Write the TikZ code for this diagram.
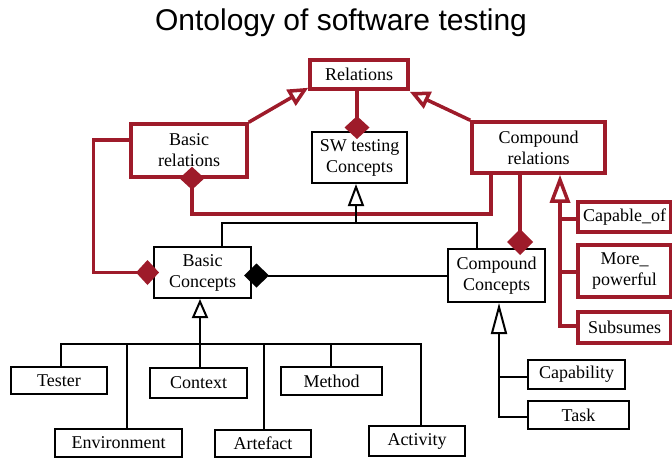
\documentclass[tikz,border=0pt]{standalone}
\usepackage{fontspec}
\setmainfont{Liberation Serif}
\newfontfamily\titlefont{Liberation Sans}
\usetikzlibrary{arrows.meta,calc}
\definecolor{ored}{RGB}{158,27,42}
\begin{document}
\begin{tikzpicture}[x=1pt,y=-1pt,
  bbox/.style={draw=black, line width=2pt, fill=white, inner sep=0pt, align=center, font=\fontsize{18}{21}\selectfont},
  rbox/.style={draw=ored, line width=3.5pt, fill=white, inner sep=0pt, align=center, font=\fontsize{18}{21}\selectfont},
  bline/.style={draw=black, line width=2pt},
  rline/.style={draw=ored, line width=3.5pt},
  opentri/.style={-{Triangle[open, fill=white, length=#1, width=16pt]}},
  ropentri/.style={-{Triangle[open, fill=white, length=#1, width=18pt]}},
  rdiam/.style={-{Diamond[length=23pt, width=25pt, fill=ored]}},
  bdiam/.style={-{Diamond[length=25pt, width=24pt, fill=black]}}
]
\fill[white] (0,0) rectangle (672,458);
\useasboundingbox (0,0) rectangle (672,458);

\node[font=\titlefont\fontsize{30}{33}\selectfont] (title) at (341,23) {Ontology of software testing};

% nodes
\node[rbox, minimum width=98pt, minimum height=29pt] (rel) at (359,74.5) {Relations};
\node[bbox, minimum width=95pt, minimum height=51pt] (sw) at (359.5,157.5) {SW testing\\Concepts};
\node[rbox, minimum width=116pt, minimum height=53pt] (br) at (189,150.5) {Basic\\relations};
\node[rbox, minimum width=133pt, minimum height=51pt] (cr) at (538.5,147.5) {Compound\\relations};
\node[rbox, minimum width=93pt, minimum height=30pt] (capof) at (624.5,217) {Capable\_of};
\node[rbox, minimum width=93pt, minimum height=52pt] (more) at (624.5,271) {More\_\\powerful};
\node[rbox, minimum width=93pt, minimum height=31pt] (subs) at (624.5,327.5) {Subsumes};
\node[bbox, minimum width=97pt, minimum height=51pt] (bc) at (202.5,272.5) {Basic\\Concepts};
\node[bbox, minimum width=97pt, minimum height=53pt] (cc) at (496.5,275.5) {Compound\\Concepts};
\node[bbox, minimum width=96pt, minimum height=27pt] (tester) at (59,380.5) {Tester};
\node[bbox, minimum width=127pt, minimum height=28pt] (env) at (118.5,443) {Environment};
\node[bbox, minimum width=97pt, minimum height=30pt] (ctx) at (198.5,383) {Context};
\node[bbox, minimum width=96pt, minimum height=27pt] (art) at (263,443.5) {Artefact};
\node[bbox, minimum width=101pt, minimum height=28pt] (meth) at (331.5,381) {Method};
\node[bbox, minimum width=96pt, minimum height=30pt] (act) at (417,441) {Activity};
\node[bbox, minimum width=97pt, minimum height=29pt] (capa) at (576.5,374.5) {Capability};
\node[bbox, minimum width=101pt, minimum height=28pt] (task) at (578.5,415) {Task};

% junction coordinates
\coordinate (j1) at (356,223);
\coordinate (j2) at (200,344);
\coordinate (ccs) at ([xshift=2.5pt]cc.south);
\coordinate (crs) at ([xshift=21.5pt]cr.south);

% red relations
\draw[rline, ropentri=20pt] (br.north east) -- ([yshift=3pt]rel.south west);
\draw[rline, ropentri=20pt] (cr.north west) -- ([yshift=-1pt]rel.south east);
\draw[rline, rdiam, shorten >=-8pt] ([xshift=-2pt]rel.south) -- ([xshift=-2.5pt]sw.north);
\draw[rline, rdiam, shorten >=-12pt] ([xshift=-47.5pt]cr.south) -- ++(0,39) -| ([xshift=3pt]br.south);
\draw[rline, -{Diamond[length=26pt, width=26pt, fill=ored]}, shorten >=-7pt] ([xshift=-18.5pt]cr.south) -- ([xshift=23.5pt]cc.north);
\draw[rline, rdiam, shorten >=-6pt] ([yshift=10.5pt]br.west) -- ++(-36,0) |- (bc.west);
\draw[rline, -{Triangle[open, fill=white, length=28pt, width=20pt]}] ([yshift=1.5pt]subs.west) -| (crs);
\draw[rline] ([yshift=-2pt]capof.west) -- ([yshift=-2pt]capof.west -| crs);
\draw[rline] ([yshift=-1pt]more.west) -- ([yshift=-1pt]more.west -| crs);

% black relations
\draw[bline, bdiam, shorten >=-8pt] (cc.west) -- (cc.west -| bc.east);
\draw[bline] ([xshift=19.5pt]bc.north) |- (j1);
\draw[bline] ([xshift=-19.5pt]cc.north) |- (j1);
\draw[bline, opentri=22pt] (j1) -- (j1 |- sw.south);

\draw[bline] ([xshift=2pt]tester.north) |- (j2);
\draw[bline] ([xshift=8.5pt]env.north) |- (j2);
\draw[bline] ([xshift=1pt]art.north) |- (j2);
\draw[bline] ([xshift=-0.5pt]meth.north) |- (j2);
\draw[bline] ([xshift=4pt]act.north) |- (j2);
\draw[bline] ([xshift=1.5pt]ctx.north) -- (j2);
\draw[bline, opentri=19pt] (j2) -- (j2 |- bc.south);

\draw[bline, -{Triangle[open, fill=white, length=31pt, width=16pt]}] ([yshift=-2pt]task.west) -| (ccs);
\draw[bline] ([yshift=-2.5pt]capa.west) -- ([yshift=-2.5pt]capa.west -| ccs);
\end{tikzpicture}
\end{document}
